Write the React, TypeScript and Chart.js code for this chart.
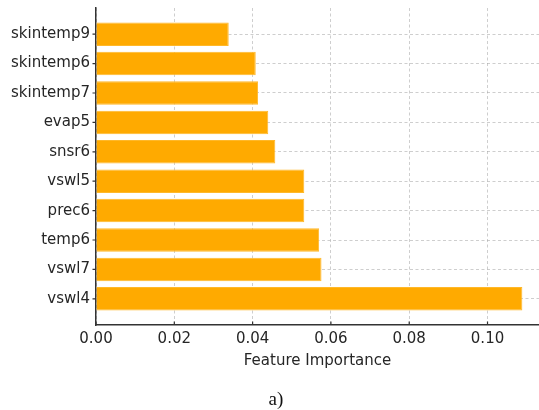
import React, { useEffect, useRef } from "react";
import { Chart, registerables } from "chart.js";

Chart.register(...registerables);

const features = ["skintemp9", "skintemp6", "skintemp7", "evap5", "snsr6", "vswl5", "prec6", "temp6", "vswl7", "vswl4"];
const importance = [0.0339, 0.0408, 0.0414, 0.0440, 0.0458, 0.0532, 0.0532, 0.0570, 0.0576, 0.1089];
const xTicks = [0, 0.02, 0.04, 0.06, 0.08, 0.1];

const FONT = "'DejaVu Sans', sans-serif";

const axisTicks = {
  id: "axisTicks",
  afterDraw(chart: any) {
    const { ctx, chartArea } = chart;
    const xs = chart.scales.x;
    const ys = chart.scales.y;
    ctx.save();
    ctx.strokeStyle = "#333";
    ctx.lineWidth = 1.2;
    ctx.beginPath();
    ys.ticks.forEach((t: any) => {
      const y = ys.getPixelForValue(t.value);
      ctx.moveTo(chartArea.left - 3.5, y);
      ctx.lineTo(chartArea.left, y);
    });
    xs.ticks.forEach((t: any) => {
      const x = xs.getPixelForValue(t.value);
      ctx.moveTo(x, chartArea.bottom);
      ctx.lineTo(x, chartArea.bottom - 3.5);
    });
    ctx.stroke();
    ctx.restore();
  },
};

export default function App() {
  const ref = useRef<HTMLCanvasElement | null>(null);
  useEffect(() => {
    if (!ref.current) return;
    const chart = new Chart(ref.current, {
      type: "bar",
      data: {
        datasets: [
          {
            data: importance.map((v, i) => ({ x: v, y: i })),
            backgroundColor: "#FFAA00",
            borderColor: "#FFB829",
            borderWidth: 1,
            categoryPercentage: 1,
            barPercentage: 0.8,
          },
        ],
      },
      options: {
        indexAxis: "y",
        animation: false,
        responsive: false,
        maintainAspectRatio: false,
        layout: { padding: { top: 8, right: 0, left: 0, bottom: 40 } },
        plugins: { legend: { display: false }, tooltip: { enabled: false } },
        scales: {
          x: {
            type: "linear",
            min: 0,
            max: 0.11315,
            z: 1,
            afterBuildTicks: (s: any) => {
              s.ticks = xTicks.map((v) => ({ value: v }));
            },
            afterFit: (s: any) => {
              s.height = 45;
              s.paddingLeft = 0;
              s.paddingRight = 0;
            },
            ticks: {
              callback: (v: any) => Number(v).toFixed(2),
              font: { family: FONT, size: 15 },
              color: "#262626",
              padding: 5,
            },
            grid: {
              color: "rgba(165,165,165,0.55)",
              lineWidth: 1,
              drawTicks: false,
            },
            border: { display: true, color: "#333", width: 1.5, dash: [3, 2.5] as any },
            title: {
              display: true,
              text: "Feature Importance",
              font: { family: FONT, size: 15 },
              color: "#262626",
              padding: { top: 4, bottom: 0 },
            },
          },
          y: {
            type: "linear",
            reverse: true,
            offset: false,
            min: -0.89,
            max: 9.89,
            z: 1,
            afterBuildTicks: (s: any) => {
              s.ticks = features.map((_, i) => ({ value: i }));
            },
            afterFit: (s: any) => {
              s.width = 96;
              s.paddingTop = 0;
              s.paddingBottom = 0;
            },
            ticks: {
              callback: (v: any) => features[v as number] ?? "",
              font: { family: FONT, size: 15 },
              color: "#262626",
              padding: 6,
            },
            grid: {
              offset: false,
              color: "rgba(165,165,165,0.55)",
              lineWidth: 1,
              drawTicks: false,
            },
            border: { display: true, color: "#333", width: 1.5, dash: [3, 2.5] as any },
          },
        },
      } as any,
      plugins: [axisTicks],
    });
    return () => chart.destroy();
  }, []);
  return (
    <div style={{ position: "absolute", left: 0, top: 0, width: 539, height: 410, background: "#fff" }}>
      <canvas ref={ref} width={539} height={410} style={{ position: "absolute", left: 0, top: 0 }} />
      <div
        style={{
          position: "absolute",
          left: 0,
          width: 552,
          top: 388,
          textAlign: "center",
          fontFamily: "'Liberation Serif', 'DejaVu Serif', serif",
          fontSize: 19,
          color: "#111",
        }}
      >
        a)
      </div>
    </div>
  );
}
